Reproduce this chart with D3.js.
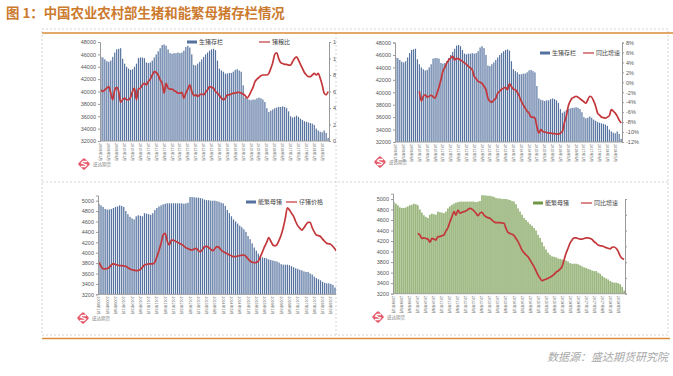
<!DOCTYPE html>
<html>
<head>
<meta charset="utf-8">
<script src="https://cdn.jsdelivr.net/npm/d3@7"></script>
<style>
  body { margin: 0; background: #fff; }
  svg { display: block; font-family: "Liberation Sans", Arial, sans-serif; }
  .cjk { font-family: "Noto Sans CJK SC", sans-serif; }
</style>
</head>
<body>
<svg id="chart" width="673" height="376"></svg>
<script>
// monthly, 2009-01 .. 2018-08
const months = d3.timeMonth.range(new Date(2009, 0, 1), new Date(2018, 8, 1))
    .map(d => d.getFullYear() + '年' + (d.getMonth() + 1) + '月');

// 生猪存栏 (万头)
const hogStock = [45600,45500,45200,44900,44800,45000,45600,46300,46800,46900,
    47000,45300,44500,44000,43700,43500,43600,44000,44500,45400,
    45500,45500,45400,44700,44600,44700,45000,45500,46000,46500,
    47000,47500,47600,47400,46800,46200,46100,46200,46200,46300,
    46200,46300,46600,47200,47400,47100,46000,44300,44200,44500,
    44800,45200,45600,46000,46300,46600,46800,46900,46700,45000,
    43700,43400,43200,42900,42900,43000,43000,43200,43500,43600,
    43400,43200,41000,39000,38800,38700,38600,38700,38700,38900,
    39000,38900,38700,38300,37300,36700,36900,37100,37300,37400,
    37500,37500,37600,37500,37300,36800,36000,35800,35900,36100,
    35900,35600,35400,35200,35100,35000,34900,34800,34600,34000,
    33700,33500,33400,33700,33300,32500];

// 猪粮比
const hogGrainRatio = [6.2,6.0,6.2,6.4,6.6,5.8,5.0,6.2,6.5,6.0,
    4.7,5.0,5.2,5.0,5.0,5.3,6.0,6.4,5.0,6.3,
    6.4,6.8,7.0,6.8,7.2,7.5,8.0,8.4,8.3,8.0,
    7.4,7.0,5.8,7.0,6.4,6.3,6.3,6.1,6.0,5.8,
    5.8,5.9,5.2,5.8,6.3,6.8,6.0,5.5,5.6,5.4,
    5.6,5.7,5.6,5.9,6.2,6.6,6.5,6.4,6.0,5.8,
    5.5,5.2,5.0,5.2,5.6,5.6,5.7,5.8,5.8,5.9,
    5.9,5.8,5.7,5.5,5.2,5.5,6.0,6.5,7.2,7.5,
    7.7,7.9,8.0,8.0,8.0,8.2,8.8,9.5,10.5,10.7,
    10.0,9.5,9.4,9.3,9.3,9.2,9.2,9.6,10.0,10.2,
    9.8,9.3,8.8,8.3,8.0,7.8,7.8,8.0,8.2,8.0,
    8.2,7.6,6.8,5.8,5.6,6.0];

// 生猪存栏 同比增速 (%)
const hogYoY = [null,null,null,null,null,null,null,null,null,null,null,null,
    -1.8,-3.8,-2.8,-2.5,-3.0,-2.8,-2.6,-2.9,-3.2,-2.2,
    -1.0,0.5,2.2,3.0,3.9,4.5,4.9,5.2,4.5,4.8,
    4.7,4.5,4.2,3.9,3.6,3.2,2.9,2.5,1.2,0.7,
    0.2,0.0,-0.2,-0.8,-1.5,-3.2,-3.8,-4.0,-3.6,-3.2,
    -2.2,-1.8,-1.4,-1.2,-1.0,-1.5,-0.3,-0.9,-1.4,-1.5,
    -2.0,-2.8,-3.8,-4.5,-5.2,-5.8,-6.2,-7.0,-7.0,-7.2,
    -8.9,-10.2,-9.5,-9.9,-10.0,-10.1,-10.2,-10.2,-10.3,-10.3,
    -10.4,-10.4,-10.2,-9.9,-8.2,-6.8,-4.8,-3.8,-3.2,-3.0,
    -2.8,-3.0,-3.3,-3.6,-3.9,-4.2,-3.5,-2.8,-3.0,-3.8,
    -4.8,-6.2,-6.6,-7.0,-7.1,-7.2,-7.0,-6.7,-5.5,-5.8,
    -6.2,-6.8,-7.6,-8.2];

// 能繁母猪存栏 (万头)
const sowStock = [4940,4910,4880,4840,4830,4830,4840,4860,4880,4890,
    4910,4900,4880,4800,4740,4690,4660,4640,4700,4720,
    4710,4700,4760,4750,4740,4730,4760,4820,4860,4890,
    4910,4930,4940,4950,4950,4950,4950,4950,4950,4950,
    4950,4940,4950,4960,5070,5070,5065,5060,5060,5050,
    5040,5020,5010,5010,5000,5000,5000,4990,4980,4960,
    4950,4900,4820,4760,4700,4640,4600,4560,4520,4490,
    4450,4400,4320,4260,4180,4100,4040,3980,3940,3910,
    3900,3890,3870,3860,3850,3840,3830,3810,3780,3770,
    3770,3770,3760,3740,3720,3700,3690,3670,3660,3640,
    3630,3630,3600,3580,3540,3510,3490,3470,3440,3420,
    3410,3410,3400,3380,3330,3260];

// 仔猪价格 (元/公斤)
const pigletPrice = [20.4,18.5,17.3,17.2,17.4,18.0,19.1,19.7,19.3,19.0,
    18.8,18.8,18.6,18.5,17.8,17.2,16.8,16.6,16.4,16.5,
    17.0,18.0,19.1,19.4,19.6,19.6,19.6,20.5,23.1,26.0,
    29.5,33.5,34.3,30.5,28.7,31.1,31.0,30.5,30.0,29.4,
    29.0,28.2,27.4,27.0,26.5,26.3,26.8,27.1,26.0,25.5,
    26.5,27.9,28.0,27.5,26.6,26.0,27.0,27.9,27.5,26.3,
    25.5,25.0,24.5,23.9,23.5,23.1,23.1,23.4,23.6,23.8,
    23.9,23.2,22.0,21.0,20.4,20.2,20.3,21.0,23.1,25.5,
    27.9,30.0,32.2,30.5,28.7,28.3,29.0,31.0,33.5,37.0,
    41.5,46.6,45.5,44.0,42.5,40.0,38.0,36.8,35.9,37.0,
    38.5,39.6,39.6,37.0,35.0,33.5,33.2,32.8,31.5,30.5,
    29.5,29.3,29.0,28.0,26.8,25.5];

// 能繁母猪 同比增速 (%)
const sowYoY = [null,null,null,null,null,null,null,null,null,null,null,null,
    -0.9,-1.4,-2.5,-2.3,-2.5,-2.7,-3.7,-2.5,-2.7,-3.0,
    -1.9,-1.9,-1.6,-1.4,-0.1,0.9,2.8,4.4,6.0,4.9,
    6.5,5.5,5.8,6.0,6.2,6.7,7.0,6.8,6.2,5.5,
    4.7,5.5,5.8,4.9,4.4,4.1,3.9,3.3,2.8,2.5,
    2.5,2.5,2.4,2.3,0.7,-0.6,-0.9,-1.2,-1.6,-2.5,
    -3.5,-4.8,-6.2,-7.0,-7.7,-8.3,-9.3,-10.4,-11.4,-12.8,
    -14.1,-15.1,-15.9,-15.6,-15.4,-15.1,-14.8,-14.4,-13.9,-13.2,
    -12.8,-12.2,-11.4,-9.3,-7.2,-5.6,-4.0,-3.0,-2.3,-2.3,
    -2.5,-2.7,-2.7,-2.5,-2.3,-2.3,-2.5,-2.8,-3.5,-4.0,
    -4.6,-4.8,-4.9,-5.1,-5.4,-5.6,-5.8,-5.3,-5.2,-5.6,
    -6.5,-8.0,-8.8,-9.1];

const hogTicks = d3.range(32000, 48001, 2000);
const sowTicks = d3.range(3200, 5001, 200);
const ratioTicks = d3.range(0, 13, 2);
const yoyTicks = d3.range(-12, 9, 2);

const blue = '#55729f', green = '#6f9746', red = '#c3363a';
const svg = d3.select('#chart');

// clip for the two left charts (they run under the divider)
svg.append('defs').append('clipPath').attr('id', 'leftclip')
    .append('rect').attr('x', 0).attr('y', 0).attr('width', 336).attr('height', 376);

// frame
svg.append('rect').attr('x', 42).attr('y', 29).attr('width', 626).attr('height', 306)
    .attr('fill', 'none').attr('stroke', '#d4d4d4').attr('stroke-dasharray', '2,2');
svg.append('line').attr('x1', 42).attr('x2', 668).attr('y1', 182).attr('y2', 182)
    .attr('stroke', '#d4d4d4').attr('stroke-dasharray', '2,2');
svg.append('line').attr('x1', 336).attr('x2', 336).attr('y1', 33).attr('y2', 335)
    .attr('stroke', '#d4d4d4').attr('stroke-dasharray', '2,2');
svg.append('line').attr('x1', 42).attr('x2', 673).attr('y1', 33).attr('y2', 33)
    .attr('stroke', '#d98c3a').attr('stroke-width', 1.5);
svg.append('line').attr('x1', 42).attr('x2', 670).attr('y1', 338.5).attr('y2', 338.5)
    .attr('stroke', '#d98c3a').attr('stroke-width', 1.5);

svg.append('text').attr('class', 'cjk').attr('x', 6).attr('y', 18)
    .attr('font-size', 13.4).attr('font-weight', 'bold').attr('fill', '#cc7a2e')
    .text('图 1：中国农业农村部生猪和能繁母猪存栏情况');

svg.append('text').attr('class', 'cjk').attr('x', 668).attr('y', 361)
    .attr('text-anchor', 'end').attr('font-size', 11).attr('font-style', 'italic')
    .attr('fill', '#a8a8a8').text('数据源：盛达期货研究院');

function logo(x, y) {
    const g = svg.append('g').attr('transform', `translate(${x},${y})`);
    g.append('rect').attr('x', -4.5).attr('y', -4.5).attr('width', 9).attr('height', 9).attr('rx', 1.5)
        .attr('transform', 'rotate(45)').attr('fill', '#e45a6b');
    g.append('path').attr('d', 'M3,-2.5 L-1,-2.5 L-2.5,-1 L2.5,1 L1,2.5 L-3,2.5')
        .attr('fill', 'none').attr('stroke', '#fff').attr('stroke-width', 1.3);
    g.append('text').attr('class', 'cjk').attr('x', 9).attr('y', 2).attr('font-size', 4.5)
        .attr('fill', '#888').text('盛达期货');
}

function drawPanel(p) {
    const g = svg.append('g').attr('clip-path', p.clip ? 'url(#leftclip)' : null);
    const x = d3.scaleBand().domain(d3.range(months.length))
        .range([p.left, p.right]).paddingInner(0.4).paddingOuter(0.15);
    const y = d3.scaleLinear().domain(p.yDomain).range([p.bottom, p.top]);
    const y2 = d3.scaleLinear().domain(p.y2Domain).range(p.y2Range);

    g.append('g').selectAll('rect').data(p.bars).join('rect')
        .attr('x', (d, i) => x(i)).attr('width', x.bandwidth())
        .attr('y', d => y(d)).attr('height', d => p.bottom - y(d))
        .attr('fill', p.barColor);

    const line = d3.line().defined(d => d != null)
        .x((d, i) => x(i) + x.bandwidth() / 2).y(d => y2(d)).curve(d3.curveMonotoneX);
    g.append('path').datum(p.line).attr('d', line)
        .attr('fill', 'none').attr('stroke', red).attr('stroke-width', 1.7);

    const ax = g.append('g').attr('transform', `translate(${p.left},0)`)
        .call(d3.axisLeft(y).tickValues(p.ticks).tickSize(2).tickPadding(2).tickFormat(d3.format('d')));
    ax.select('.domain').attr('stroke', '#9a9a9a');
    ax.selectAll('line').attr('stroke', '#9a9a9a');
    ax.selectAll('text').attr('font-size', 5.5).attr('fill', '#555');

    if (p.rightTicks) {
        const ar = g.append('g').attr('transform', `translate(${p.right},0)`)
            .call(d3.axisRight(y2).tickValues(p.rightTicks).tickSize(2).tickPadding(2)
                .tickFormat(p.rightFormat));
        ar.select('.domain').attr('stroke', '#9a9a9a');
        ar.selectAll('line').attr('stroke', '#9a9a9a');
        ar.selectAll('text').attr('font-size', 5.5).attr('fill', '#555')
            .attr('opacity', p.rightLabels ? 1 : 0);
    }

    g.append('line').attr('x1', p.left).attr('x2', p.right)
        .attr('y1', p.bottom).attr('y2', p.bottom).attr('stroke', '#9a9a9a');

    g.append('g').selectAll('text').data(months.filter((m, i) => i % 4 == 0)).join('text')
        .attr('transform', (d, i) => `translate(${x(i * 4) + x.bandwidth() / 2 - 1.5},${p.bottom + 2}) rotate(90)`)
        .attr('class', 'cjk').attr('font-size', 3.8).attr('fill', '#555').text(d => d);

    // legend
    const lg = svg.append('g').attr('class', 'cjk').attr('font-size', 6).attr('fill', '#444');
    lg.append('rect').attr('x', p.legend[0]).attr('y', p.legend[1] - 1.5)
        .attr('width', 10).attr('height', 3).attr('fill', p.barColor);
    lg.append('text').attr('x', p.legend[0] + 12).attr('y', p.legend[1] + 2).text(p.names[0]);
    lg.append('line').attr('x1', p.legend[2]).attr('x2', p.legend[2] + 11)
        .attr('y1', p.legend[1]).attr('y2', p.legend[1]).attr('stroke', red).attr('stroke-width', 1.2);
    lg.append('text').attr('x', p.legend[2] + 13).attr('y', p.legend[1] + 2).text(p.names[1]);
}

drawPanel({ left: 100, right: 329, top: 42, bottom: 141, clip: true,
    yDomain: [32000, 48000], ticks: hogTicks, bars: hogStock, barColor: blue,
    y2Domain: [0, 12], y2Range: [141, 42], line: hogGrainRatio,
    rightTicks: ratioTicks, rightLabels: true, rightFormat: d => d,
    legend: [187, 42, 259], names: ['生猪存栏', '猪粮比'] });

drawPanel({ left: 395, right: 622, top: 42.5, bottom: 142,
    yDomain: [32000, 48000], ticks: hogTicks, bars: hogStock, barColor: blue,
    y2Domain: [-12, 8], y2Range: [142, 42.5], line: hogYoY,
    rightTicks: yoyTicks, rightLabels: true, rightFormat: d => d + '%',
    legend: [540, 53, 583], names: ['生猪存栏', '同比增速'] });

drawPanel({ left: 98, right: 338, top: 195.5, bottom: 294.3, clip: true,
    yDomain: [3200, 5100], ticks: sowTicks, bars: sowStock, barColor: blue,
    y2Domain: [5, 50], y2Range: [294.3, 200.7], line: pigletPrice,
    legend: [246, 202, 286], names: ['能繁母猪', '仔猪价格'] });

drawPanel({ left: 393, right: 625, top: 193.7, bottom: 293.7,
    yDomain: [3200, 5100], ticks: sowTicks, bars: sowStock, barColor: green,
    y2Domain: [-20, 10], y2Range: [293.7, 199], line: sowYoY,
    rightTicks: d3.range(-20, 11, 5), rightLabels: false, rightFormat: d => d + '%',
    legend: [533, 203, 581], names: ['能繁母猪', '同比增速'] });

logo(84, 164);
logo(380, 162);
logo(83, 318);
logo(378, 317);
</script>
</body>
</html>
